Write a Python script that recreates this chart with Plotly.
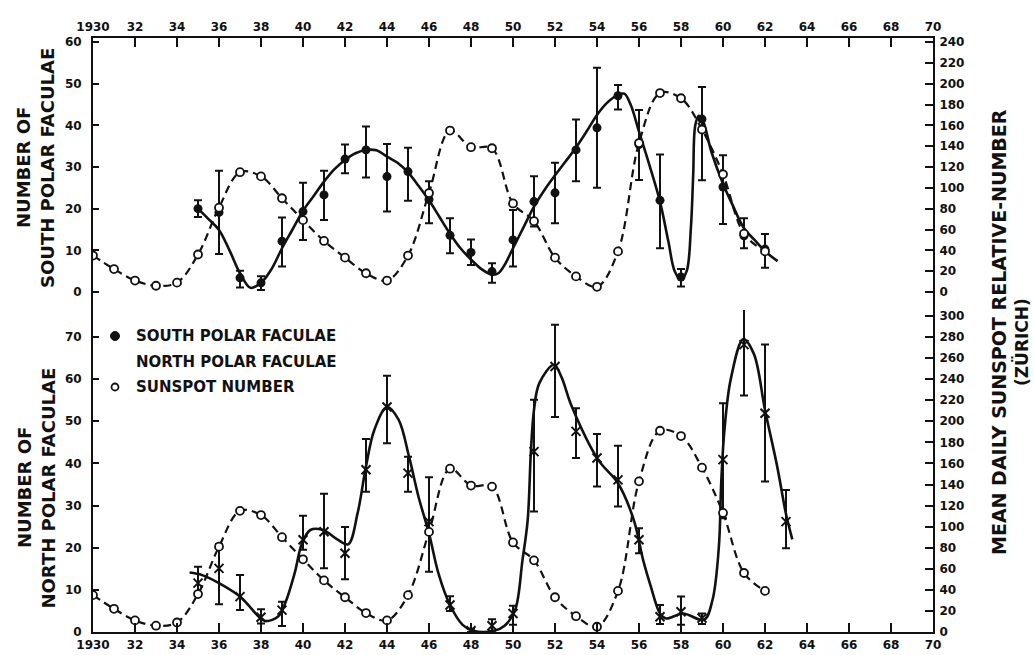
import plotly.graph_objects as go

# ---------------- data ----------------
years_ss = list(range(1930, 1963))
sunspot = [35, 22, 11, 6, 9, 36, 81, 115, 111, 90, 69, 49, 33, 18, 11, 35, 95,
           155, 139, 138, 85, 68, 33, 15, 5, 39, 143, 191, 186, 156, 113, 56, 39]

years_s = list(range(1935, 1963))
south = [20, 19.1, 3.4, 2.2, 12.2, 19.3, 23.3, 31.9, 34.1, 27.7, 28.9, 22.2, 13.6, 9.5,
         4.9, 12.5, 21.7, 23.8, 34.1, 39.4, 47.1, 35.4, 22, 3.6, 41.5, 25.2, 13.5, 10.3]
south_hi = [22, 29.1, 5.1, 3.8, 17.9, 26.2, 29.1, 35.4, 39.7, 35.5, 34.6, 26.6, 17.7, 12.6,
            6.9, 19.7, 27.8, 31, 41.4, 53.8, 49.7, 43.7, 33, 5.5, 49.2, 32.8, 17.7, 13.9]
south_lo = [18, 9.1, 1.1, 0.5, 6.1, 12.5, 17.3, 28.5, 27.5, 19.3, 21.9, 16.5, 9.3, 6.5,
            2.2, 6.1, 15.7, 16.5, 26.6, 25, 43.8, 26.9, 10.5, 1.3, 26.8, 16.3, 10.5, 5.8]

south_curve_x = [1935.0, 1935.5, 1936.0, 1936.5, 1937.0, 1937.5, 1938.0, 1938.5, 1939.0, 1939.5,
                 1940.0, 1940.5, 1941.0, 1941.5, 1942.0, 1942.5, 1943.0, 1943.5, 1944.0, 1944.5,
                 1945.0, 1945.5, 1946.0, 1946.5, 1947.0, 1947.5, 1948.0, 1948.5, 1949.0, 1949.3,
                 1949.6, 1950.0, 1950.5, 1951.0, 1951.5, 1952.0, 1952.5, 1953.0, 1953.5, 1954.0,
                 1954.5, 1955.0, 1955.3, 1955.6, 1956.0, 1956.5, 1957.0, 1957.4, 1957.7, 1958.0,
                 1958.27, 1958.47, 1958.58, 1958.68, 1958.85, 1959.05, 1959.45, 1960.0, 1960.4,
                 1961.0, 1961.5, 1962.0, 1962.6]
south_curve_y = [20, 17.5, 14.9, 10, 4.5, 1.0, 2.2, 5.5, 10.5, 15, 19.5, 23, 26.5, 29.5, 31.7,
                 33.3, 34.1, 34, 32.5, 31, 28.7, 25.5, 22, 18, 14, 10.5, 7.8, 5.5, 4.2, 4.5, 6.5,
                 10.5, 15.5, 20.5, 24.5, 28, 31.3, 34.7, 38.5, 42.5, 45.5, 47.3, 47.6, 45, 38.5,
                 30.4, 21.7, 12.1, 5, 3, 5, 15.3, 28, 40, 42.3, 41, 33.6, 26, 21.5, 15.3, 12.5,
                 9.8, 7.4]

years_n = list(range(1935, 1964))
north = [11.6, 15.1, 8.4, 3.5, 5.2, 21.9, 23.8, 18.7, 38.5, 53.4, 37.7, 26.2, 6.4, 0.3, 1.5,
         4.4, 42.8, 63.0, 47.6, 41.3, 36.1, 21.9, 3.6, 4.8, 3.3, 40.9, 68.2, 51.9, 26.2]
north_hi = [15.5, 20.9, 13.5, 5.4, 7.2, 27.6, 32.8, 24.9, 45.8, 60.8, 41.6, 36.7, 8.5, 0.8, 3.0,
            6.2, 55.1, 72.9, 53.1, 47, 44.2, 24.6, 6.4, 8.4, 4.4, 54.3, 80.2, 68.2, 33.7]
north_lo = [9.2, 6.6, 5.2, 2.0, 1.4, 19.5, 15.1, 12.5, 33.3, 44.8, 33.3, 14.3, 5.0, 0.0, 0.3,
            1.7, 28.6, 51, 41.3, 34.5, 29.8, 18.7, 1.9, 1.7, 1.9, 27, 56.1, 35.7, 19.9]

north_curve_x = [1934.6, 1935.2, 1936.0, 1937.0, 1937.5, 1937.9, 1938.2, 1938.8, 1939.15, 1939.6,
                 1939.95, 1940.35, 1940.95, 1941.65, 1942.15, 1942.6, 1943.0, 1943.4, 1944.0,
                 1944.55, 1945.05, 1945.5, 1946.0, 1946.45, 1947.0, 1947.6, 1948.1, 1949.1,
                 1949.6, 1950.1, 1950.45, 1950.7, 1950.85, 1951.0, 1951.25, 1951.95, 1952.3,
                 1952.8, 1954.05, 1955.0, 1955.75, 1956.2, 1956.55, 1957.0, 1957.3, 1958.1,
                 1959.1, 1959.5, 1959.8, 1959.92, 1960.07, 1960.37, 1960.97, 1961.47, 1962.0,
                 1962.58, 1963.0, 1963.3]
north_curve_y = [14.1, 13.5, 11.6, 8.4, 5.8, 3.6, 2.6, 3.6, 6.8, 13.9, 21, 24.2, 24.2, 21.9,
                 20.8, 28.2, 39.3, 48, 53.4, 50.4, 41.6, 32.1, 23.4, 13.9, 6.4, 1.7, 0.3, 0.3,
                 1.5, 5.2, 17, 26.6, 42.5, 52.7, 59, 63.4, 60.6, 53.5, 40.9, 35.3, 26.6, 17, 11,
                 4.4, 3.2, 4.4, 2.9, 7.6, 20, 36, 48, 60, 69.5, 66, 52.7, 39.3, 28, 22]

x_ticks = list(range(1930, 1971, 2))
x_ticktext = ["1930"] + [str(v % 100) for v in x_ticks[1:]]
left_top_ticks = [0, 10, 20, 30, 40, 50, 60]
left_bot_ticks = [0, 10, 20, 30, 40, 50, 60, 70]
right_top_ticks = list(range(0, 241, 20))
right_bot_ticks = list(range(0, 301, 20))

# ---------------- styling ----------------
FONT = "DejaVu Sans"
BLACK = "#111111"
W, H = 1034, 655
L, R, T, B = 93, 101, 38, 23
PW, PH = W - L - R, H - T - B
split_px = 310  # boundary between panels
dom_split = (H - B - split_px) / PH

def px_x(px):
    return (px - L) / PW

def px_y(py):
    return (H - B - py) / PH

def hi_err(v, hi):
    return [h - a for a, h in zip(v, hi)]

def lo_err(v, lo):
    return [a - l for a, l in zip(v, lo)]

fig = go.Figure()

# ---- top panel: south polar faculae ----
fig.add_trace(go.Scatter(x=south_curve_x, y=south_curve_y, xaxis="x2", yaxis="y3",
                         mode="lines", line=dict(color=BLACK, width=2.6, shape="spline"),
                         hoverinfo="skip", showlegend=False))
fig.add_trace(go.Scatter(x=years_s, y=south, xaxis="x2", yaxis="y3", mode="markers",
                         marker=dict(symbol="circle", size=9, color=BLACK),
                         error_y=dict(type="data", symmetric=False,
                                      array=hi_err(south, south_hi),
                                      arrayminus=lo_err(south, south_lo),
                                      color=BLACK, thickness=2, width=4),
                         showlegend=False))
fig.add_trace(go.Scatter(x=years_ss, y=sunspot, xaxis="x2", yaxis="y4", mode="lines+markers",
                         line=dict(color=BLACK, width=2.2, dash="8px,5px", shape="spline"),
                         marker=dict(symbol="circle", size=8, color="white",
                                     line=dict(color=BLACK, width=1.8)),
                         showlegend=False))

# ---- bottom panel: north polar faculae ----
fig.add_trace(go.Scatter(x=north_curve_x, y=north_curve_y, xaxis="x", yaxis="y",
                         mode="lines", line=dict(color=BLACK, width=2.6, shape="spline"),
                         hoverinfo="skip", showlegend=False))
fig.add_trace(go.Scatter(x=years_n, y=north, xaxis="x", yaxis="y", mode="markers",
                         marker=dict(symbol="x-thin", size=9, color=BLACK,
                                     line=dict(color=BLACK, width=2)),
                         error_y=dict(type="data", symmetric=False,
                                      array=hi_err(north, north_hi),
                                      arrayminus=lo_err(north, north_lo),
                                      color=BLACK, thickness=2, width=4),
                         showlegend=False))
fig.add_trace(go.Scatter(x=years_ss, y=sunspot, xaxis="x", yaxis="y2", mode="lines+markers",
                         line=dict(color=BLACK, width=2.2, dash="8px,5px", shape="spline"),
                         marker=dict(symbol="circle", size=8, color="white",
                                     line=dict(color=BLACK, width=1.8)),
                         showlegend=False))

tickfont = dict(family=FONT, size=12, color=BLACK, weight="bold")
common_axis = dict(showline=True, linecolor=BLACK, linewidth=2, ticks="inside",
                   tickcolor=BLACK, tickwidth=2, showgrid=False, zeroline=False,
                   tickfont=tickfont, automargin=False)

top_lo = -(split_px - 292) / ((292 - 42) / 60)
top_hi = (292 - T) / ((292 - 42) / 60)
bot_hi = (H - B - split_px) / ((632 - 337) / 70)

fig.update_layout(
    width=W, height=H,
    margin=dict(l=L, r=R, t=T, b=B, pad=0, autoexpand=False),
    paper_bgcolor="white", plot_bgcolor="white",
    showlegend=False,
    font=dict(family=FONT, color=BLACK),
    xaxis=dict(common_axis, range=[1930, 1970], anchor="y", tickvals=x_ticks,
               ticktext=x_ticktext, ticklen=9, ticklabelstandoff=1),
    xaxis2=dict(common_axis, matches="x", anchor="y3", side="top", tickvals=x_ticks,
                ticktext=x_ticktext, ticklen=9, ticklabelstandoff=0),
    yaxis=dict(common_axis, domain=[0, dom_split], range=[0, bot_hi], anchor="x",
               tickvals=left_bot_ticks, ticklen=6, ticklabelstandoff=7),
    yaxis2=dict(common_axis, overlaying="y", side="right", anchor="x",
                range=[0, bot_hi * 4], tickvals=right_bot_ticks, ticklen=8,
                ticklabelstandoff=2),
    yaxis3=dict(common_axis, domain=[dom_split, 1], range=[top_lo, top_hi], anchor="x2",
                tickvals=left_top_ticks, ticklen=6, ticklabelstandoff=7),
    yaxis4=dict(common_axis, overlaying="y3", side="right", anchor="x2",
                range=[top_lo * 4, top_hi * 4], tickvals=right_top_ticks, ticklen=8,
                ticklabelstandoff=2),
)

title_font = dict(family=FONT, size=18, color=BLACK, weight="bold")
ann = []
for text, cx, cy in [("NUMBER OF", 23, 168), ("SOUTH POLAR FACULAE", 47, 168),
                     ("NUMBER OF", 24, 488), ("NORTH POLAR FACULAE", 47.5, 488)]:
    ann.append(dict(text=text, x=px_x(cx), y=px_y(cy), xref="paper", yref="paper",
                    textangle=-90, showarrow=False, font=title_font,
                    xanchor="center", yanchor="middle"))
ann.append(dict(text="MEAN DAILY SUNSPOT RELATIVE-NUMBER", x=px_x(999), y=px_y(332),
                xref="paper", yref="paper", textangle=-90, showarrow=False,
                font=dict(family=FONT, size=19, color=BLACK, weight="bold"),
                xanchor="center", yanchor="middle"))
ann.append(dict(text="(ZÜRICH)", x=px_x(1021), y=px_y(342),
                xref="paper", yref="paper", textangle=-90, showarrow=False,
                font=dict(family=FONT, size=17, color=BLACK, weight="bold"),
                xanchor="center", yanchor="middle"))

legend_font = dict(family=FONT, size=15, color=BLACK, weight="bold")
legend_items = [("SOUTH POLAR FACULAE", 336), ("NORTH POLAR FACULAE", 362),
                ("SUNSPOT NUMBER", 387)]
for text, cy in legend_items:
    ann.append(dict(text=text, x=px_x(134), y=px_y(cy), xref="paper", yref="paper",
                    showarrow=False, font=legend_font, xanchor="left", yanchor="middle"))
fig.update_layout(annotations=ann)

shapes = [
    dict(type="circle", xref="paper", yref="paper", xsizemode="pixel", ysizemode="pixel",
         xanchor=px_x(115), yanchor=px_y(336), x0=-4.5, x1=4.5, y0=-4.5, y1=4.5,
         fillcolor=BLACK, line=dict(color=BLACK, width=1)),
    dict(type="circle", xref="paper", yref="paper", xsizemode="pixel", ysizemode="pixel",
         xanchor=px_x(115), yanchor=px_y(387), x0=-3.5, x1=3.5, y0=-3.5, y1=3.5,
         fillcolor="white", line=dict(color=BLACK, width=1.8)),
]
fig.update_layout(shapes=shapes)

fig.write_html("out.html")
